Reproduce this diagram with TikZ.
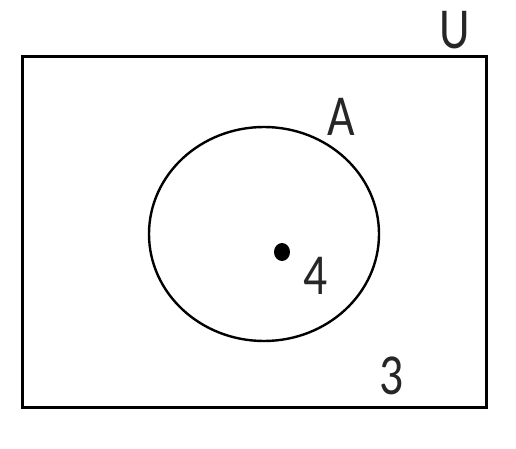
\documentclass[tikz,border=0pt]{standalone}
\usepackage{fontspec}
\setmainfont{Carlito}
\newfontfamily\lblfont[FakeStretch=0.82]{Carlito}
\usetikzlibrary{shapes.geometric}
\tikzset{
  frame/.style={draw=black, line width=3pt},
  setline/.style={draw=black, line width=2.4pt},
  lbl/.style={inner sep=0pt, font=\lblfont\fontsize{58}{60}\selectfont, text=black!85},
}
\begin{document}
\begin{tikzpicture}[x=1pt,y=-1pt]
\useasboundingbox (0,0) rectangle (516,449);
\node[frame, minimum width=464pt, minimum height=351pt, inner sep=0pt] (U) at (254,232) {};
\node[setline, ellipse, minimum width=230pt, minimum height=214pt, inner sep=0pt] (A) at (264,234) {};
\fill (282,252) circle[x radius=8pt, y radius=9pt];
\node[lbl] (l4) at (316,276) {4};
\node[lbl] (l3) at (392,376) {3};
\node[lbl] (lA) at (341,117) {A};
\node[lbl] (lU) at (455,30) {U};
\end{tikzpicture}
\end{document}
